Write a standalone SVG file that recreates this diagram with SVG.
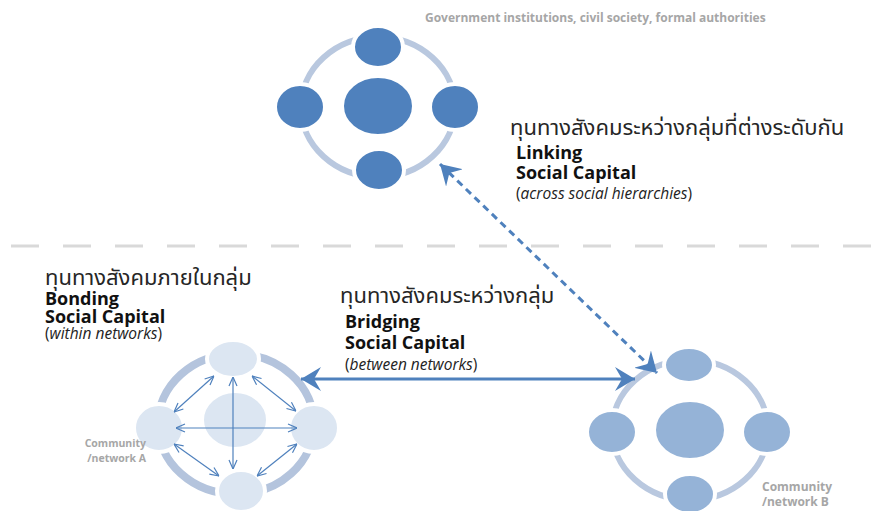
<svg xmlns="http://www.w3.org/2000/svg" width="888" height="511" viewBox="0 0 888 511">
<defs>
<style>
.ring{fill:none;stroke:#b9c8df;stroke-width:6}
.ringA{fill:none;stroke:#b4c4dd;stroke-width:8}
.dk{fill:#4f81bd;stroke:#fff;stroke-width:4}
.md{fill:#95b3d7;stroke:#fff;stroke-width:4}
.lt{fill:#dce6f2;stroke:#fff;stroke-width:4}
.th{font-family:'Noto Sans Thai','Noto Sans','DejaVu Sans',sans-serif;font-size:22px;fill:#262626}
.hd{font-family:'Open Sans','Liberation Sans',sans-serif;font-weight:bold;fill:#111;font-size:18px}
.sub{font-family:'Open Sans','Liberation Sans',sans-serif;fill:#222;font-size:15.5px}
.gr{font-family:'Open Sans','Liberation Sans',sans-serif;font-weight:bold;fill:#a6a6a6}
.inner{stroke:#4f81bd;stroke-width:1.2;fill:none;marker-start:url(#v);marker-end:url(#v)}
.big{stroke:#4f81bd;stroke-width:3;fill:none;marker-start:url(#st);marker-end:url(#st)}
</style>
<marker id="v" viewBox="0 0 10 10" refX="10" refY="5" markerWidth="10" markerHeight="10" markerUnits="userSpaceOnUse" orient="auto-start-reverse">
<path d="M1,1 L10,5 L1,9" fill="none" stroke="#4f81bd" stroke-width="1.2"/>
</marker>
<marker id="st" viewBox="0 0 20 24" refX="20" refY="12" markerWidth="20" markerHeight="24" markerUnits="userSpaceOnUse" orient="auto-start-reverse">
<path d="M20,12 L0,0 L7,12 L0,24 Z" fill="#4f81bd"/>
</marker>
</defs>
<rect width="888" height="511" fill="#fff"/>

<line x1="11" y1="246" x2="884" y2="246" stroke="#d9d9d9" stroke-width="3" stroke-dasharray="28 24"/>

<g id="gov-cluster">
<ellipse class="ring" cx="378" cy="107" rx="77" ry="70"/>
<ellipse class="dk" cx="378" cy="47" rx="25" ry="21"/>
<ellipse class="dk" cx="378" cy="106" rx="36" ry="30"/>
<ellipse class="dk" cx="300" cy="107" rx="25" ry="23"/>
<ellipse class="dk" cx="455" cy="107" rx="25" ry="23"/>
<ellipse class="dk" cx="379" cy="170" rx="25" ry="21"/>
<text class="gr" x="425" y="22" font-size="12">Government institutions, civil society, formal authorities</text>
</g>

<g id="community-a">
<ellipse class="ringA" cx="236" cy="424" rx="78" ry="70"/>
<ellipse class="lt" cx="233" cy="359" rx="26" ry="19"/>
<ellipse class="lt" cx="235" cy="420" rx="33" ry="29"/>
<ellipse class="lt" cx="159" cy="428" rx="25" ry="24"/>
<ellipse class="lt" cx="314" cy="428" rx="25" ry="24"/>
<ellipse class="lt" cx="241" cy="491" rx="24" ry="21"/>
<text class="gr" font-size="10.5" text-anchor="end"><tspan x="146" y="447">Community</tspan><tspan x="146" y="462">/network A</tspan></text>
</g>

<g id="community-b">
<ellipse class="ring" cx="690" cy="430" rx="78" ry="70"/>
<ellipse class="md" cx="689" cy="365" rx="25" ry="18"/>
<ellipse class="md" cx="690" cy="430" rx="36" ry="30"/>
<ellipse class="md" cx="612" cy="432" rx="25" ry="22"/>
<ellipse class="md" cx="767" cy="432" rx="25" ry="22"/>
<ellipse class="md" cx="690" cy="494" rx="25" ry="20"/>
<text class="gr" font-size="12"><tspan x="762" y="491">Community</tspan><tspan x="762" y="506">/network B</tspan></text>
</g>

<g id="linking-label">
<text class="th" x="510" y="135">ทุนทางสังคมระหว่างกลุ่มที่ต่างระดับกัน</text>
<text class="hd" x="516" y="159">Linking</text>
<text class="hd" x="516" y="179">Social Capital</text>
<text class="sub" x="516" y="199">(<tspan font-style="italic">across social hierarchies</tspan>)</text>
</g>

<g id="bonding-label">
<text class="th" x="45" y="285" font-size="20.7">ทุนทางสังคมภายในกลุ่ม</text>
<text class="hd" x="45" y="305" font-size="14">Bonding</text>
<text class="hd" x="45" y="323" font-size="14">Social Capital</text>
<text class="sub" x="45" y="339" font-size="12">(<tspan font-style="italic">within networks</tspan>)</text>
</g>

<g id="bridging-label">
<text class="th" x="340" y="303">ทุนทางสังคมระหว่างกลุ่ม</text>
<text class="hd" x="345" y="328">Bridging</text>
<text class="hd" x="345" y="349">Social Capital</text>
<text class="sub" x="345" y="370">(<tspan font-style="italic">between networks</tspan>)</text>
</g>

<g id="connectors">
<line class="inner" x1="233" y1="377" x2="233" y2="469"/>
<line class="inner" x1="176" y1="428" x2="297" y2="428"/>
<line class="inner" x1="174" y1="412" x2="214" y2="376"/>
<line class="inner" x1="252" y1="376" x2="296" y2="411"/>
<line class="inner" x1="174" y1="444" x2="219" y2="476"/>
<line class="inner" x1="297" y1="444" x2="257" y2="476"/>
<line class="big" x1="301" y1="379" x2="635" y2="379"/>
<line class="big" x1="440" y1="164" x2="657" y2="373" stroke-dasharray="7 5"/>
</g>
</svg>
